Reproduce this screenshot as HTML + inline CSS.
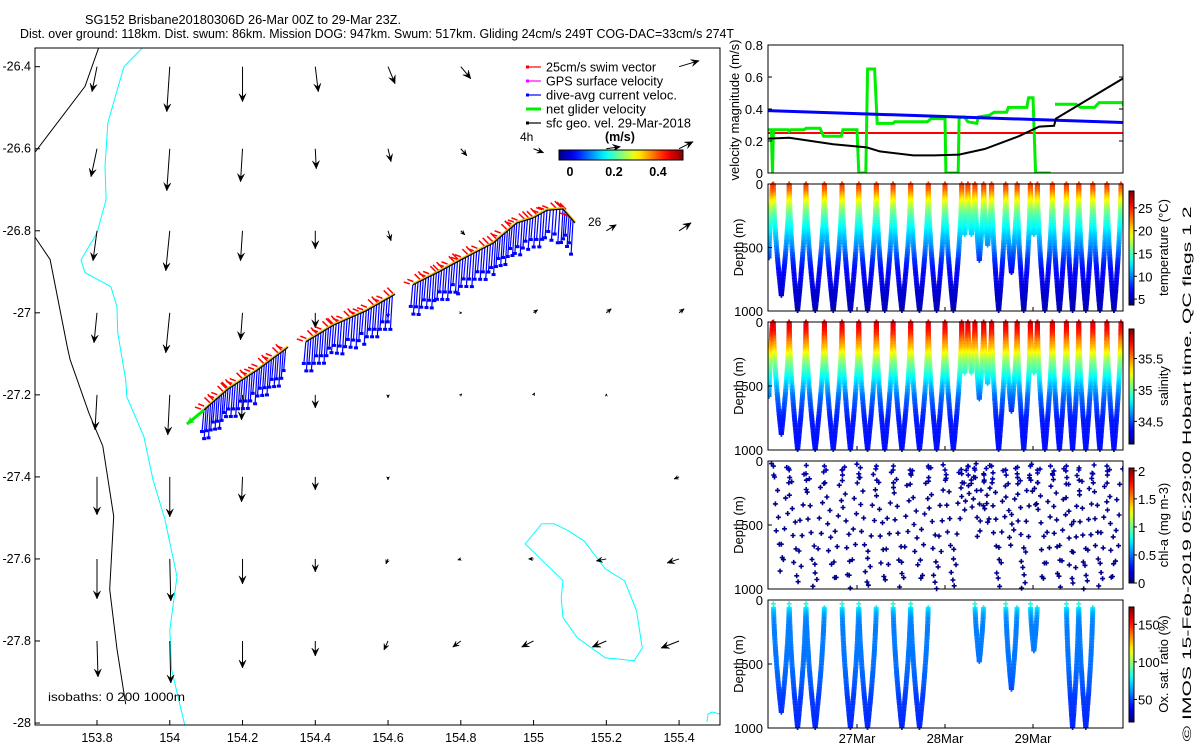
<!DOCTYPE html>
<html><head><meta charset="utf-8"><title>SG152 glider plot</title>
<style>
html,body{margin:0;padding:0;background:#fff;}
svg{display:block;font-family:"Liberation Sans",sans-serif;}
text{fill:#000;}
</style></head>
<body>
<svg id="fig" width="1200" height="750" viewBox="0 0 1200 750" xmlns="http://www.w3.org/2000/svg">
<rect x="0" y="0" width="1200" height="750" fill="#fff"/>
<text x="85" y="24" font-size="12.5" textLength="316" lengthAdjust="spacingAndGlyphs">SG152 Brisbane20180306D 26-Mar 00Z to 29-Mar 23Z.</text>
<text x="20" y="38" font-size="12.5" textLength="714" lengthAdjust="spacingAndGlyphs">Dist. over ground: 118km. Dist. swum: 86km. Mission DOG: 947km. Swum: 517km. Gliding 24cm/s 249T COG-DAC=33cm/s 274T</text>
<g id="map"></g>
<g id="vel"></g>
<g id="prof"></g>
<text transform="translate(1191,474) rotate(-90)" text-anchor="middle" font-size="12" textLength="535" lengthAdjust="spacingAndGlyphs">© IMOS 15-Feb-2019 05:29:00 Hobart time. QC flags 1 2</text>
</svg>
<script>
// ---------------- DATA ----------------
const gridLon = [153.8,154.0,154.2,154.4,154.6,154.8,155.0,155.2,155.4];
const gridLat = [-26.4,-26.6,-26.8,-27.0,-27.2,-27.4,-27.6,-27.8];
const gridU = [
 [-0.05,-0.03,0.00,0.03,0.07,0.10,null,null,0.20],
 [-0.06,-0.03,-0.02,0.01,0.03,0.06,0.10,0.14,0.14],
 [-0.04,-0.04,-0.02,0.00,0.03,0.04,null,0.10,0.12],
 [-0.03,-0.04,-0.02,0.00,0.00,0.01,0.04,0.05,0.05],
 [-0.02,-0.02,-0.01,0.00,0.00,0.01,0.01,0.00,0.00],
 [0.00,0.00,-0.01,0.00,0.00,0.00,0.00,0.00,-0.05],
 [0.00,0.01,0.00,0.00,-0.02,-0.03,-0.05,-0.10,-0.12],
 [0.01,0.01,0.00,0.00,-0.04,-0.08,-0.12,-0.14,-0.18]];
const gridV = [
 [-0.25,-0.45,-0.35,-0.25,-0.17,-0.12,null,null,0.06],
 [-0.28,-0.42,-0.33,-0.20,-0.13,-0.07,-0.04,0.02,0.07],
 [-0.30,-0.40,-0.30,-0.18,-0.10,-0.04,null,0.06,0.08],
 [-0.30,-0.40,-0.27,-0.15,-0.05,0.00,0.03,0.04,0.04],
 [-0.35,-0.40,-0.25,-0.13,-0.03,0.01,0.02,0.01,0.00],
 [-0.38,-0.40,-0.25,-0.13,-0.03,0.00,0.00,0.00,-0.02],
 [-0.40,-0.42,-0.25,-0.13,-0.05,-0.01,0.00,-0.02,-0.04],
 [-0.36,-0.42,-0.27,-0.15,-0.09,-0.06,-0.06,-0.06,-0.07]];
const trackLon = [154.094,154.160,154.240,154.325,154.374,154.450,154.540,154.619,154.668,154.740,154.798,154.889,154.954,154.998,155.037,155.081,155.114];
const trackLat = [-27.237,-27.186,-27.140,-27.084,-27.071,-27.030,-26.995,-26.955,-26.932,-26.900,-26.872,-26.830,-26.781,-26.769,-26.750,-26.747,-26.781];
const trackSeg = [0,0,0,0,1,1,1,1,2,2,2,2,2,2,2,2,2];
const coastLon = [153.805,153.767,153.600,153.560,153.671,153.718,153.726,153.778,153.816,153.846,153.835,153.855,153.879];
const coastLat = [-26.353,-26.448,-26.643,-26.724,-26.870,-27.082,-27.114,-27.245,-27.325,-27.496,-27.674,-27.820,-27.954];
const iso200Lon = [153.926,153.874,153.830,153.822,153.825,153.800,153.756,153.767,153.838,153.855,153.857,153.879,153.882,153.929,153.954,153.987,154.020,154.000,154.005,154.041];
const iso200Lat = [-26.353,-26.400,-26.536,-26.643,-26.724,-26.805,-26.871,-26.902,-26.936,-26.985,-27.048,-27.163,-27.205,-27.302,-27.407,-27.504,-27.643,-27.773,-27.870,-28.004];
const blobLon = [155.023,154.977,155.081,155.076,155.081,155.120,155.197,155.277,155.299,155.283,155.250,155.197,155.139,155.095,155.056,155.023];
const blobLat = [-27.514,-27.563,-27.653,-27.694,-27.743,-27.792,-27.841,-27.848,-27.817,-27.726,-27.653,-27.624,-27.556,-27.531,-27.514,-27.514];
const blackT = [-0.02,0.23,0.73,1.11,1.26,1.64,1.88,2.16,2.45,2.84,3.07,3.24,3.26,4.05];
const blackV = [0.215,0.22,0.18,0.16,0.135,0.11,0.11,0.115,0.15,0.23,0.29,0.295,0.34,0.60];
const blueT = [-0.02,4.05];
const blueV = [0.39,0.315];
const redV = 0.25;
const greenT = [-0.02,0.03,0.03,0.04,0.05,0.22,0.23,0.25,0.40,0.42,0.58,0.62,0.82,0.84,1.00,1.02,1.10,1.12,1.20,1.23,1.41,1.43,1.80,1.84,2.00,2.01,2.15,2.16,2.18,2.22,2.26,2.36,2.38,2.50,2.56,2.70,2.72,2.93,2.95,3.00,3.03,3.20];
const greenV = [0.27,0.27,0.20,0.00,0.27,0.27,0.26,0.27,0.27,0.28,0.28,0.23,0.23,0.27,0.27,0.00,0.00,0.65,0.65,0.31,0.31,0.32,0.32,0.34,0.34,0.00,0.00,0.34,0.35,0.35,0.32,0.31,0.35,0.36,0.38,0.38,0.41,0.41,0.47,0.47,0.00,0.00];
const green2T = [3.25,3.49,3.54,3.70,3.75,4.02,4.04];
const green2V = [0.43,0.43,0.41,0.41,0.44,0.44,0.40];
const surfT = [0.05,0.23,0.42,0.63,0.83,1.02,1.22,1.41,1.61,1.81,2.00,2.19,2.26,2.34,2.44,2.53,2.69,2.82,2.97,3.05,3.22,3.38,3.52,3.68,3.84,4.00];
const diveMax = [880,1000,1000,1000,1000,1000,1000,1000,1000,1000,1000,400,400,600,480,1000,700,1000,400,1000,1000,1000,1000,1000,1000];
const oxyMax  = [880,1000,1000,0,1000,1000,0,1000,1000,0,0,0,0,480,0,0,700,0,400,0,0,1000,1000,0,0];
const profDepth = [0,50,100,150,200,250,300,400,500,600,700,800,1000];
const profTemp = [24.5,23,20.5,18.5,16.5,15,14,12,10,8,6.8,6,5];
const profSal = [35.8,35.75,35.65,35.5,35.4,35.25,35.1,34.9,34.7,34.55,34.45,34.4,34.4];
const profChl = [0.08,0.1,0.08,0.05,0.03,0.02,0.02,0.02,0.02,0.02,0.02,0.02,0.02];
const profOxy = [90,78,66,60,58,58,58,57,56,54,50,47,45];

// ---------------- HELPERS ----------------
const NS='http://www.w3.org/2000/svg';
function mk(tag,attrs,parent){const e=document.createElementNS(NS,tag);for(const k in attrs)e.setAttribute(k,attrs[k]);parent.appendChild(e);return e;}
function jet(f){f=Math.max(0,Math.min(1,f));const c=v=>Math.round(255*Math.max(0,Math.min(1,v)));
 return 'rgb('+c(1.5-Math.abs(4*f-3))+','+c(1.5-Math.abs(4*f-2))+','+c(1.5-Math.abs(4*f-1))+')';}
function interp(xs,ys,x){if(x<=xs[0])return ys[0];for(let i=1;i<xs.length;i++){if(x<=xs[i]){const f=(x-xs[i-1])/(xs[i]-xs[i-1]);return ys[i-1]+f*(ys[i]-ys[i-1]);}}return ys[ys.length-1];}

// ---------------- MAP ----------------
const map=document.getElementById('map');
const mapL=35,mapR=720,mapT=48,mapB=725;
const lonX=lon=>97+(lon-153.8)*363.8;
const latY=lat=>66.7+(-26.4-lat)*410.2;
const velScale=100;
const defs=mk('defs',{},map);
const cp=mk('clipPath',{id:'mapclip'},defs);
mk('rect',{x:mapL,y:mapT,width:mapR-mapL,height:mapB-mapT},cp);
const mapG=mk('g',{'clip-path':'url(#mapclip)'},map);


function poly(lons,lats,color,w,name){
 const pts=lons.map((v,i)=>lonX(v).toFixed(1)+','+latY(lats[i]).toFixed(1)).join(' ');
 const p=mk('polyline',{points:pts,fill:'none',stroke:color,'stroke-width':w},mapG);
 
 
}
poly(coastLon,coastLat,'#000',1,'isobath-0m');
poly(iso200Lon,iso200Lat,'#00ffff',1,'isobath-200m');
poly(blobLon,blobLat,'#00ffff',1,'isobath-1000m');
const cornerIso=mk('polyline',{points:'707,722 708,714 712,712 720,714',fill:'none',stroke:'#00ffff','stroke-width':1},mapG);


function arrow(g,x0,y0,x1,y1,color,w,head,name){
 const a=mk('g',{},g);
 
 
 mk('line',{x1:x0,y1:y0,x2:x1,y2:y1,stroke:color,'stroke-width':w},a);
 const dx=x1-x0,dy=y1-y0,L=Math.hypot(dx,dy);
 if(L<0.5)return;
 const ux=dx/L,uy=dy/L,h=Math.min(head,L*0.4+2);
 const p=[[x1,y1],[x1-h*ux+h*0.45*uy,y1-h*uy-h*0.45*ux],[x1-h*0.6*ux,y1-h*0.6*uy],[x1-h*ux-h*0.45*uy,y1-h*uy+h*0.45*ux]];
 mk('polygon',{points:p.map(q=>q[0].toFixed(1)+','+q[1].toFixed(1)).join(' '),fill:color,stroke:color,'stroke-width':0.5},a);
}
for(let r=0;r<gridLat.length;r++)for(let c=0;c<gridLon.length;c++){
 const u=gridU[r][c],v=gridV[r][c]; if(u===null)continue;
 const x0=lonX(gridLon[c]),y0=latY(gridLat[r]);
 arrow(mapG,x0,y0,x0+u*velScale,y0-v*velScale,'#000',1,8,'geo-velocity-arrow');
}
const trackG=mk('g',{},mapG);


for(let s=0;s<3;s++){
 const idx=trackSeg.map((v,i)=>v===s?i:-1).filter(i=>i>=0);
 const xs=idx.map(i=>lonX(trackLon[i])),ys=idx.map(i=>latY(trackLat[i]));
 for(let k=0;k<xs.length-1;k++){
  const L=Math.hypot(xs[k+1]-xs[k],ys[k+1]-ys[k]),n=Math.max(1,Math.round(L/3));
  for(let j=0;j<n;j++){
   const f=j/n,x=xs[k]+f*(xs[k+1]-xs[k]),y=ys[k]+f*(ys[k+1]-ys[k]);
   const step=(j*3+k*7)%5;
   const bl=mk('line',{x1:x,y1:y,x2:x-2,y2:y+22+step*3,stroke:'#0000ff','stroke-width':1.2},trackG);
   
   
   const bd=mk('rect',{x:x-4,y:y+20+step*3,width:4,height:3,fill:'#0000ff'},trackG);
   
   
   const s2=(j*7+k*3)%6;
   if(j%3!==2){
    const rl=mk('line',{x1:x+s2-3,y1:y-1-(s2%3),x2:x-9+s2,y2:y-3-s2*1.3,stroke:'#ff0000','stroke-width':1.5},trackG);
    
    
   }
  }
 }
 const yl=mk('polyline',{points:xs.map((x,i)=>x.toFixed(1)+','+(ys[i]-1).toFixed(1)).join(' '),fill:'none',stroke:'#f0c000','stroke-width':2},trackG);
 
 
 const pl=mk('polyline',{points:xs.map((x,i)=>x.toFixed(1)+','+ys[i].toFixed(1)).join(' '),fill:'none',stroke:'#000','stroke-width':1.2},trackG);
 
 
}
arrow(trackG,lonX(trackLon[0]),latY(trackLat[0]),lonX(trackLon[0])-17,latY(trackLat[0])+14,'#00ee00',3,7,'net-glider-velocity');
const lbl26=mk('text',{x:588,y:226,'font-size':12},map);
lbl26.textContent='26';


const frame=mk('rect',{x:mapL,y:mapT,width:mapR-mapL,height:mapB-mapT,fill:'none',stroke:'#000','stroke-width':1},map);


const xTickVals=[153.8,154,154.2,154.4,154.6,154.8,155,155.2,155.4];
const xTickLbl=['153.8','154','154.2','154.4','154.6','154.8','155','155.2','155.4'];
xTickVals.forEach((v,i)=>{
 const x=lonX(v);
 const tk=mk('line',{x1:x,y1:mapB,x2:x,y2:mapB-5,stroke:'#000'},map);
 
 
 const t=mk('text',{x:x,y:742,'font-size':12.5,'text-anchor':'middle'},map);
 t.textContent=xTickLbl[i];
 
 
});
const yTickVals=[-26.4,-26.6,-26.8,-27,-27.2,-27.4,-27.6,-27.8,-28];
const yTickLbl=['-26.4','-26.6','-26.8','-27','-27.2','-27.4','-27.6','-27.8','-28'];
yTickVals.forEach((v,i)=>{
 const y=latY(v);
 const tk=mk('line',{x1:mapL,y1:y,x2:mapL+5,y2:y,stroke:'#000'},map);
 
 
 const t=mk('text',{x:31,y:y+4,'font-size':12.5,'text-anchor':'end'},map);
 t.textContent=yTickLbl[i];
 
 
});
const iso=mk('text',{x:48,y:701,'font-size':12,textLength:137,lengthAdjust:'spacingAndGlyphs'},map);
iso.textContent='isobaths: 0   200  1000m';


const legItems=[['25cm/s swim vector','#ff0000'],['GPS surface velocity','#ff00ff'],['dive-avg current veloc.','#0000ff'],['net glider velocity','#00ee00'],['sfc geo. vel. 29-Mar-2018','#000']];
const legW=[110,117,131,100,145];
legItems.forEach((it,i)=>{
 const y=67+i*14;
 const g=mk('g',{},map);
 
 
 mk('line',{x1:527,y1:y,x2:541,y2:y,stroke:it[1],'stroke-width':i===3?3:1.2},g);
 mk('rect',{x:526,y:y-1.5,width:3,height:3,fill:it[1]},g);
 const t=mk('text',{x:546,y:y+4.5,'font-size':12.5,textLength:legW[i],lengthAdjust:'spacingAndGlyphs'},g);
 t.textContent=it[0];
});
const l4h=mk('text',{x:520,y:141,'font-size':12},map);
l4h.textContent='4h';


const cbT=mk('text',{x:605,y:141,'font-size':12.5,'font-weight':'bold'},map);
cbT.textContent='(m/s)';


const grad=mk('linearGradient',{id:'jetH',x1:0,y1:0,x2:1,y2:0},defs);
const gradV=mk('linearGradient',{id:'jetV',x1:0,y1:1,x2:0,y2:0},defs);
for(let i=0;i<=20;i++){mk('stop',{offset:i/20,'stop-color':jet(i/20)},grad);mk('stop',{offset:i/20,'stop-color':jet(i/20)},gradV);}
const cbar=mk('rect',{x:559,y:150,width:124,height:10,fill:'url(#jetH)',stroke:'#000','stroke-width':1},map);


[['0',570],['0.2',614],['0.4',658]].forEach(a=>{
 const t=mk('text',{x:a[1],y:176,'font-size':12.5,'font-weight':'bold','text-anchor':'middle'},map);
 t.textContent=a[0];
 
 
});

// ---------------- RIGHT PANELS ----------------
const PL=768,PR=1123;
const tX=t=>769+88*t;
const vel=document.getElementById('vel');
const vT=45,vB=173;
const vY=v=>vB-(v/0.8)*(vB-vT);
const vcp=mk('clipPath',{id:'velclip'},defs);
mk('rect',{x:PL,y:vT,width:PR-PL,height:vB-vT},vcp);
const vg=mk('g',{'clip-path':'url(#velclip)'},vel);
function vline(ts,vs,color,w,name){
 const p=mk('polyline',{points:ts.map((t,i)=>tX(t).toFixed(1)+','+vY(vs[i]).toFixed(1)).join(' '),fill:'none',stroke:color,'stroke-width':w},vg);
 
 
}
vline([-0.1,4.1],[redV,redV],'#ff0000',2,'swim-speed-line');
vline(greenT,greenV,'#00ee00',3,'net-glider-speed-line');
vline(green2T,green2V,'#00ee00',3,'net-glider-speed-line-2');
vline(blueT,blueV,'#0000ff',3,'dive-avg-current-line');
vline(blackT,blackV,'#000',2,'geo-velocity-line');
const vf=mk('rect',{x:PL,y:vT,width:PR-PL,height:vB-vT,fill:'none',stroke:'#000'},vel);


const vTicks=[0,0.2,0.4,0.6,0.8],vLbl=['0','0.2','0.4','0.6','0.8'];
vTicks.forEach((v,i)=>{
 const y=vY(v);
 const tk=mk('line',{x1:PL,y1:y,x2:PL+4,y2:y,stroke:'#000'},vel);
 
 
 const tk2=mk('line',{x1:PR,y1:y,x2:PR-4,y2:y,stroke:'#000'},vel);
 
 
 const t=mk('text',{x:763,y:y+5,'font-size':13,'text-anchor':'end'},vel);
 t.textContent=vLbl[i];
 
 
});
const vtitle=mk('text',{transform:'translate(739,110) rotate(-90)','font-size':13,'text-anchor':'middle'},vel);
vtitle.textContent='velocity magnitude (m/s)';



const prof=document.getElementById('prof');
const panels=[
 {top:184,bot:311,prof:profTemp,vmin:3.7,vmax:28.7,ticks:[5,10,15,20,25],tl:['5','10','15','20','25'],title:'temperature (°C)',name:'temperature',mode:'full'},
 {top:322,bot:450,prof:profSal,vmin:34.14,vmax:35.97,ticks:[34.5,35,35.5],tl:['34.5','35','35.5'],title:'salinity',name:'salinity',mode:'full'},
 {top:461,bot:589,prof:profChl,vmin:0,vmax:2.05,ticks:[0,0.5,1,1.5,2],tl:['0','0.5','1','1.5','2'],title:'chl-a (mg m-3)',name:'chlorophyll',mode:'sparse'},
 {top:600,bot:728,prof:profOxy,vmin:20,vmax:173,ticks:[50,100,150],tl:['50','100','150'],title:'Ox. sat. ratio (%)',name:'oxygen',mode:'oxy'}];
panels.forEach((P,pi)=>{
 const g=mk('g',{},prof);
 
 
 const dY=d=>P.top+d/1000*(P.bot-P.top);
 const cpp=mk('clipPath',{id:'pc'+pi},defs);
 mk('rect',{x:PL,y:P.top-3,width:PR-PL,height:P.bot-P.top+6},cpp);
 const pg=mk('g',{'clip-path':'url(#pc'+pi+')'},g);
 const cf=v=>jet((v-P.vmin)/(P.vmax-P.vmin));
 const dot=(t,d)=>{
  const x=tX(t),y=dY(d),c=cf(interp(profDepth,P.prof,d));
  const r=mk('path',{d:'M'+(x-2.5).toFixed(1)+' '+y.toFixed(1)+'h5M'+x.toFixed(1)+' '+(y-2.5).toFixed(1)+'v5',stroke:c,'stroke-width':1.6,fill:'none'},pg);
  
  
 };
 for(let k=0;k<diveMax.length;k++){
  const t0=surfT[k],t1=surfT[k+1],tm=(t0+t1)/2;
  const maxD=P.mode==='oxy'?oxyMax[k]:diveMax[k];
  if(!maxD)continue;
  if(P.mode==='sparse'){
   let i=0;
   for(let d=(k*37)%60+20;d<maxD;d+=105,i++){dot(t0+(tm-t0)*(d/maxD)+((i*7+k)%5-2)*0.012,d);}
   i=0;
   for(let d=(k*53)%70+50;d<maxD;d+=120,i++){dot(t1-(t1-tm)*(d/maxD)+((i*3+k)%5-2)*0.012,d);}
   dot(t0,40+(k%3)*30);dot(t0+0.005,110+(k%4)*20);
  } else {
   const start=(P.mode==='oxy')?60:0;
   for(let d=start;d<=maxD;d+=12){
    const f=Math.pow(d/maxD,1.6);
    dot(t0+(tm-t0)*f,d);
    dot(t1-(t1-tm)*f,d);
   }
   if(P.mode==='oxy'){dot(t0,30);}
  }
 }
 if(P.mode==='full'){for(let d=580;d>=0;d-=12){dot(0.04*Math.pow(1-d/580,1.6),d);}}
 const fr=mk('rect',{x:PL,y:P.top,width:PR-PL,height:P.bot-P.top,fill:'none',stroke:'#000'},g);
 
 
 [[0,'0'],[500,'500'],[1000,'1000']].forEach(a=>{
  const y=dY(a[0]);
  const tk=mk('line',{x1:PL,y1:y,x2:PL+4,y2:y,stroke:'#000'},g);
  
  
  const t=mk('text',{x:763,y:y+5,'font-size':13,'text-anchor':'end'},g);
  t.textContent=a[1];
  
  
 });
 [1,2,3].forEach(t=>{
  const x=tX(t);
  const tk=mk('line',{x1:x,y1:P.bot,x2:x,y2:P.bot-4,stroke:'#000'},g);
  
  
 });
 const dt=mk('text',{transform:'translate('+743+','+((P.top+P.bot)/2)+') rotate(-90)','font-size':13,'text-anchor':'middle'},g);
 dt.textContent='Depth (m)';
 
 
 const cbTop=P.top+7,cbBot=P.bot-6;
 const cb=mk('rect',{x:1129,y:cbTop,width:5,height:cbBot-cbTop,fill:'url(#jetV)',stroke:'#000','stroke-width':1},g);
 
 
 P.ticks.forEach((v,i)=>{
  const y=cbBot-(v-P.vmin)/(P.vmax-P.vmin)*(cbBot-cbTop);
  const tk=mk('line',{x1:1134,y1:y,x2:1137,y2:y,stroke:'#000'},g);
  
  
  const t=mk('text',{x:1138,y:y+5,'font-size':13},g);
  t.textContent=P.tl[i];
  
  
 });
 const ct=mk('text',{transform:'translate(1168,'+((P.top+P.bot)/2)+') rotate(-90)','font-size':13,'text-anchor':'middle'},g);
 ct.textContent=P.title;
 
 
});
const dayLbl=['27Mar','28Mar','29Mar'];
[1,2,3].forEach((t,i)=>{
 const tx=mk('text',{x:tX(t),y:743,'font-size':13,'text-anchor':'middle'},prof);
 tx.textContent=dayLbl[i];
 
 
});
</script>
</body></html>
